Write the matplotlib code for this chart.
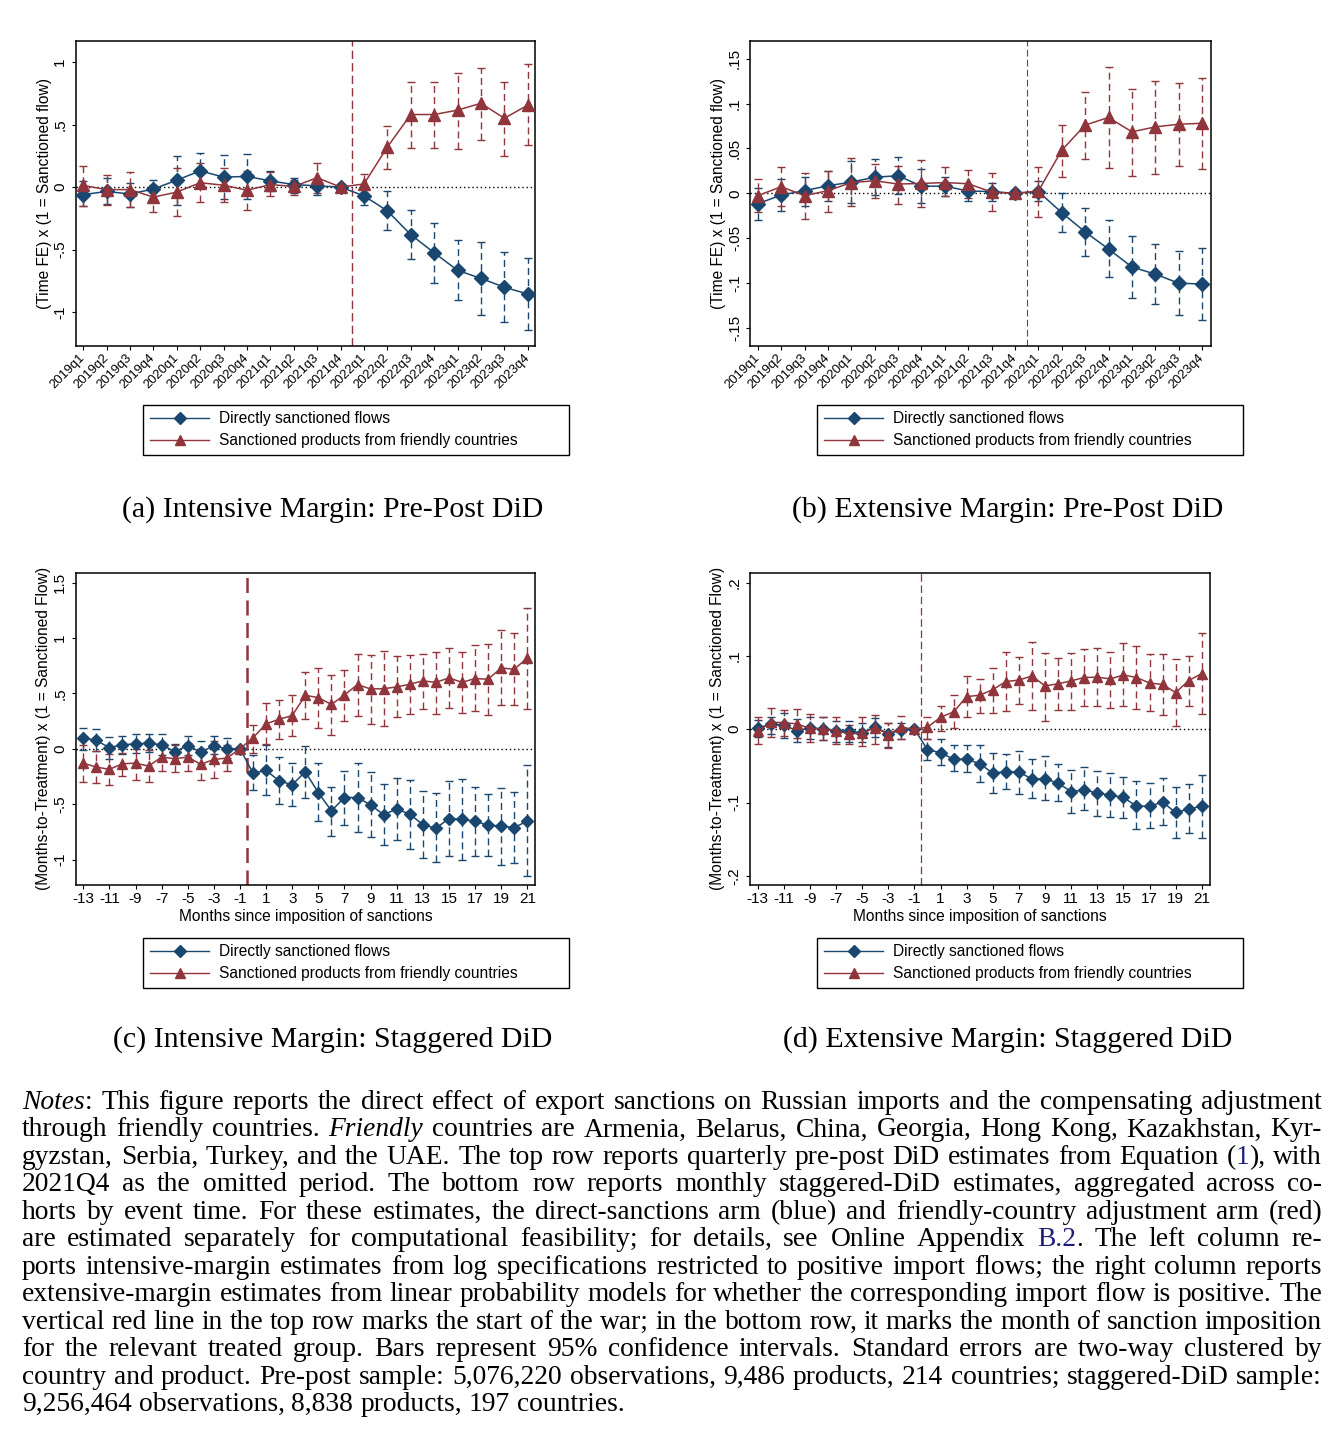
import numpy as np
import matplotlib
matplotlib.use('Agg')
import matplotlib.pyplot as plt
from matplotlib.lines import Line2D
from matplotlib.patches import Rectangle

plt.rcParams['font.family'] = ['Liberation Sans', 'DejaVu Sans']

BLUE = '#1a476f'
RED = '#90353b'
LINK = '#1c1c7a'
nan = np.nan

# ---- data ----
quarters = ['2019q1', '2019q2', '2019q3', '2019q4', '2020q1', '2020q2', '2020q3', '2020q4',
            '2021q1', '2021q2', '2021q3', '2021q4', '2022q1', '2022q2', '2022q3', '2022q4',
            '2023q1', '2023q2', '2023q3', '2023q4']
months = list(range(-13, 22))

# (a) intensive margin, pre-post
a_dir = [-0.06, -0.035, -0.055, -0.015, 0.055, 0.13, 0.08, 0.085, 0.05, 0.02, 0.01, 0.0,
         -0.07, -0.19, -0.38, -0.525, -0.665, -0.73, -0.80, -0.855]
a_dir_hi = [0.05, 0.07, 0.03, 0.06, 0.25, 0.27, 0.26, 0.265, 0.13, 0.075, 0.055, nan,
            -0.015, -0.03, -0.18, -0.29, -0.42, -0.44, -0.52, -0.565]
a_dir_lo = [-0.155, -0.135, -0.16, -0.095, -0.145, -0.005, -0.095, -0.095, -0.03, -0.045, -0.065, nan,
            -0.14, -0.34, -0.575, -0.765, -0.905, -1.02, -1.075, -1.14]
a_fr = [0.013, -0.02, -0.02, -0.08, -0.04, 0.035, 0.015, -0.025, 0.02, 0.005, 0.075, 0.0,
        0.025, 0.32, 0.58, 0.58, 0.615, 0.67, 0.55, 0.655]
a_fr_hi = [0.165, 0.10, 0.12, 0.02, 0.15, 0.19, 0.15, 0.13, 0.12, 0.06, 0.195, nan,
           0.105, 0.49, 0.84, 0.84, 0.91, 0.95, 0.84, 0.98]
a_fr_lo = [-0.155, -0.14, -0.16, -0.2, -0.23, -0.12, -0.12, -0.18, -0.07, -0.065, -0.05, nan,
           -0.05, 0.145, 0.31, 0.315, 0.305, 0.38, 0.25, 0.335]

# (b) extensive margin, pre-post
b_dir = [-0.0115, -0.002, 0.003, 0.0085, 0.0125, 0.018, 0.0196, 0.008, 0.008, 0.0026, 0.002, 0.0,
         0.002, -0.0215, -0.043, -0.062, -0.082, -0.090, -0.100, -0.101]
b_dir_hi = [0.0063, 0.016, 0.018, 0.0245, 0.036, 0.038, 0.040, 0.027, 0.0185, 0.009, 0.012, nan,
            0.0137, 0.0, -0.016, -0.030, -0.048, -0.056, -0.064, -0.061]
b_dir_lo = [-0.030, -0.0196, -0.0137, -0.008, -0.011, -0.002, -0.001, -0.011, -0.003, -0.008, -0.008, nan,
            -0.009, -0.043, -0.070, -0.093, -0.116, -0.123, -0.135, -0.141]
b_fr = [-0.0026, 0.0074, -0.0026, 0.003, 0.012, 0.014, 0.0104, 0.011, 0.012, 0.0107, 0.0015, 0.0,
        0.0026, 0.048, 0.076, 0.0845, 0.0685, 0.074, 0.077, 0.078]
b_fr_hi = [0.0163, 0.029, 0.023, 0.025, 0.0396, 0.033, 0.030, 0.037, 0.029, 0.026, 0.023, nan,
           0.0296, 0.076, 0.113, 0.141, 0.116, 0.125, 0.123, 0.1285]
b_fr_lo = [-0.021, -0.0137, -0.029, -0.0207, -0.014, -0.0056, -0.012, -0.015, -0.0033, -0.005, -0.020, nan,
           -0.0267, 0.018, 0.038, 0.028, 0.0196, 0.022, 0.031, 0.027]

# (c) intensive margin, staggered
c_dir = [0.099, 0.075, 0.01, 0.036, 0.045, 0.05, 0.036, -0.025, 0.027, -0.03, 0.027, 0.0, 0.0,
         -0.22, -0.195, -0.29, -0.325, -0.207, -0.396, -0.56, -0.44, -0.44, -0.507, -0.595,
         -0.544, -0.59, -0.685, -0.718, -0.63, -0.636, -0.655, -0.69, -0.697, -0.712, -0.652]
c_dir_hi = [0.19, 0.175, 0.105, 0.115, 0.13, 0.13, 0.13, 0.04, 0.115, 0.066, 0.117, 0.096, nan,
            -0.055, 0.036, -0.075, -0.126, 0.024, -0.13, -0.345, -0.2, -0.126, -0.21, -0.318,
            -0.264, -0.285, -0.38, -0.40, -0.29, -0.273, -0.345, -0.41, -0.355, -0.39, -0.147]
c_dir_lo = [-0.015, -0.02, -0.09, -0.045, -0.04, -0.03, -0.06, -0.13, -0.055, -0.135, -0.05, -0.085, nan,
            -0.375, -0.42, -0.495, -0.52, -0.44, -0.655, -0.787, -0.685, -0.75, -0.8, -0.865,
            -0.826, -0.904, -0.99, -1.024, -0.967, -1.0, -0.967, -0.967, -1.048, -1.03, -1.147]
c_fr = [-0.13, -0.165, -0.186, -0.135, -0.13, -0.156, -0.075, -0.09, -0.075, -0.14, -0.096, -0.084, 0.0,
        0.10, 0.225, 0.267, 0.30, 0.483, 0.462, 0.40, 0.486, 0.58, 0.54, 0.543,
        0.558, 0.583, 0.613, 0.60, 0.64, 0.60, 0.634, 0.628, 0.73, 0.718, 0.82]
c_fr_hi = [0.036, -0.02, -0.045, -0.036, 0.0, -0.015, 0.045, 0.036, 0.05, 0.0, 0.07, 0.036, nan,
           0.216, 0.41, 0.44, 0.483, 0.694, 0.73, 0.667, 0.71, 0.855, 0.844, 0.883,
           0.838, 0.847, 0.853, 0.874, 0.907, 0.874, 0.934, 0.943, 1.07, 1.042, 1.267]
c_fr_lo = [-0.30, -0.31, -0.33, -0.25, -0.285, -0.30, -0.2, -0.21, -0.2, -0.285, -0.26, -0.2, nan,
           -0.04, 0.04, 0.087, 0.114, 0.267, 0.186, 0.126, 0.252, 0.294, 0.225, 0.204,
           0.288, 0.315, 0.357, 0.315, 0.369, 0.324, 0.34, 0.306, 0.393, 0.393, 0.363]

# (d) extensive margin, staggered
d_dir = [0.0014, 0.007, 0.0055, -0.002, 0.0018, 0.0005, -0.002, -0.003, -0.0045, 0.003, -0.0064, -0.001, 0.0,
         -0.028, -0.032, -0.041, -0.041, -0.047, -0.06, -0.0577, -0.0586, -0.0677, -0.0677, -0.0736,
         -0.085, -0.0827, -0.087, -0.090, -0.093, -0.105, -0.105, -0.0995, -0.1136, -0.109, -0.105]
d_dir_hi = [0.012, 0.017, 0.022, 0.014, 0.016, 0.017, 0.011, 0.011, 0.0086, 0.0155, 0.009, 0.0086, nan,
            -0.013, -0.013, -0.022, -0.022, -0.022, -0.032, -0.0336, -0.0295, -0.0405, -0.037, -0.048,
            -0.056, -0.052, -0.057, -0.060, -0.0645, -0.071, -0.0736, -0.067, -0.079, -0.075, -0.062]
d_dir_lo = [-0.01, -0.007, -0.012, -0.017, -0.013, -0.0145, -0.017, -0.017, -0.018, -0.010, -0.0236, -0.0136, nan,
            -0.042, -0.0486, -0.057, -0.059, -0.072, -0.087, -0.082, -0.0877, -0.0936, -0.097, -0.098,
            -0.114, -0.11, -0.118, -0.12, -0.121, -0.136, -0.135, -0.131, -0.148, -0.142, -0.148]
d_fr = [-0.003, 0.0095, 0.009, 0.0073, 0.001, 0.0005, -0.002, -0.0064, -0.0055, 0.0023, -0.0073, 0.0027, 0.0,
        0.0027, 0.0164, 0.0236, 0.0445, 0.0464, 0.054, 0.065, 0.067, 0.0727, 0.059, 0.062,
        0.066, 0.0705, 0.071, 0.0686, 0.074, 0.0705, 0.063, 0.061, 0.05, 0.0664, 0.076]
d_fr_hi = [0.016, 0.0295, 0.026, 0.027, 0.021, 0.017, 0.017, 0.006, 0.016, 0.019, 0.008, 0.0177, nan,
           0.016, 0.032, 0.046, 0.073, 0.069, 0.084, 0.105, 0.099, 0.1186, 0.1045, 0.0977,
           0.104, 0.110, 0.111, 0.106, 0.117, 0.114, 0.102, 0.102, 0.0955, 0.0995, 0.131]
d_fr_lo = [-0.0205, -0.01, -0.0086, -0.012, -0.018, -0.0145, -0.02, -0.020, -0.023, -0.0195, -0.025, -0.013, nan,
           -0.013, -0.0023, 0.001, 0.0164, 0.022, 0.022, 0.0255, 0.0345, 0.026, 0.0118, 0.026,
           0.026, 0.031, 0.031, 0.029, 0.031, 0.027, 0.025, 0.0195, 0.0045, 0.032, 0.0205]

a_yticks = [-1, -0.5, 0, 0.5, 1]
a_ylabels = ['-1', '-.5', '0', '.5', '1']
b_yticks = [-0.15, -0.1, -0.05, 0, 0.05, 0.1, 0.15]
b_ylabels = ['-.15', '-.1', '-.05', '0', '.05', '.1', '.15']
c_yticks = [-1, -0.5, 0, 0.5, 1, 1.5]
c_ylabels = ['-1', '-.5', '0', '.5', '1', '1.5']
d_yticks = [-0.2, -0.1, 0, 0.1, 0.2]
d_ylabels = ['-.2', '-.1', '0', '.1', '.2']

legend_labels = ['Directly sanctioned flows', 'Sanctioned products from friendly countries']
captions = ['(a) Intensive Margin: Pre-Post DiD', '(b) Extensive Margin: Pre-Post DiD',
            '(c) Intensive Margin: Staggered DiD', '(d) Extensive Margin: Staggered DiD']

notes_lines = [
    "*Notes*: This figure reports the direct effect of export sanctions on Russian imports and the compensating adjustment",
    "through friendly countries. *Friendly* countries are Armenia, Belarus, China, Georgia, Hong Kong, Kazakhstan, Kyr-",
    "gyzstan, Serbia, Turkey, and the UAE. The top row reports quarterly pre-post DiD estimates from Equation ({1}), with",
    "2021Q4 as the omitted period. The bottom row reports monthly staggered-DiD estimates, aggregated across co-",
    "horts by event time. For these estimates, the direct-sanctions arm (blue) and friendly-country adjustment arm (red)",
    "are estimated separately for computational feasibility; for details, see Online Appendix {B.2}. The left column re-",
    "ports intensive-margin estimates from log specifications restricted to positive import flows; the right column reports",
    "extensive-margin estimates from linear probability models for whether the corresponding import flow is positive. The",
    "vertical red line in the top row marks the start of the war; in the bottom row, it marks the month of sanction imposition",
    "for the relevant treated group. Bars represent 95% confidence intervals. Standard errors are two-way clustered by",
    "country and product. Pre-post sample: 5,076,220 observations, 9,486 products, 214 countries; staggered-DiD sample:",
    "9,256,464 observations, 8,838 products, 197 countries.",
]

# ---- figure ----
W, H = 1341, 1441
fig = plt.figure(figsize=(W / 100, H / 100), dpi=100)


def fx(px):
    return px / W


def fy(py):
    return 1 - py / H


def make_ax(left, top, right, bottom):
    return fig.add_axes([fx(left), fy(bottom), (right - left) / W, (bottom - top) / H])


def draw_panel(ax, x, d, d_lo, d_hi, f, f_lo, f_hi, vline, vlw, ms_d, ms_f):
    ax.axhline(0, color='black', ls=(0, (1, 2)), lw=1.0, zorder=1)
    ax.axvline(vline, color=RED, ls=(0, (6, 3)), lw=vlw, zorder=1)
    for y, lo, hi, c in [(d, d_lo, d_hi, BLUE), (f, f_lo, f_hi, RED)]:
        y = np.array(y, dtype=float)
        lo = np.array(lo, dtype=float)
        hi = np.array(hi, dtype=float)
        eb = ax.errorbar(x, y, yerr=[y - lo, hi - y], fmt='none', ecolor=c,
                         elinewidth=1.0, capsize=2.8, capthick=1.0, zorder=2)
        eb[2][0].set_linestyle((0, (5, 3)))
    ax.plot(x, d, color=BLUE, lw=1.1, marker='D', ms=ms_d, mec=BLUE, zorder=3)
    ax.plot(x, f, color=RED, lw=1.1, marker='^', ms=ms_f, mec=RED, zorder=4)
    for s in ax.spines.values():
        s.set_linewidth(1.1)
    ax.tick_params(direction='out', length=3, width=0.8, labelsize=11, colors='black')


def style_y(ax, ticks, labels, ylabel, lab_x):
    ax.set_yticks(ticks)
    ax.set_yticklabels(labels, rotation=90, va='center')
    ax.tick_params(axis='y', pad=3)
    ax.set_ylabel(ylabel, fontsize=11.2)
    ax.yaxis.set_label_coords(lab_x, 0.5)


ax_a = make_ax(75.7, 40.7, 535, 346)
ax_b = make_ax(750.3, 40.7, 1210.7, 346)
ax_c = make_ax(75.7, 572.7, 535, 885)
ax_d = make_ax(750, 572.7, 1210, 885)

qx = np.arange(len(quarters))
draw_panel(ax_a, qx, a_dir, a_dir_lo, a_dir_hi, a_fr, a_fr_lo, a_fr_hi, 11.5, 1.0, 7, 8)
draw_panel(ax_b, qx, b_dir, b_dir_lo, b_dir_hi, b_fr, b_fr_lo, b_fr_hi, 11.5, 0.8, 7, 8)
draw_panel(ax_c, months, c_dir, c_dir_lo, c_dir_hi, c_fr, c_fr_lo, c_fr_hi, -0.5, 1.8, 6.5, 7.5)
draw_panel(ax_d, months, d_dir, d_dir_lo, d_dir_hi, d_fr, d_fr_lo, d_fr_hi, -0.5, 0.9, 6.5, 7.5)

ax_a.set_xlim(-0.32, 19.31)
ax_a.set_ylim(-1.27, 1.17)
ax_b.set_xlim(-0.32, 19.37)
ax_b.set_ylim(-0.17, 0.17)
ax_c.set_xlim(-13.58, 21.59)
ax_c.set_ylim(-1.23, 1.59)
ax_d.set_xlim(-13.59, 21.63)
ax_d.set_ylim(-0.2125, 0.2135)

for ax in (ax_a, ax_b):
    ax.set_xticks(qx)
    ax.set_xticklabels(quarters, rotation=45, ha='right', va='center',
                       rotation_mode='anchor', fontsize=9.4)
    ax.tick_params(axis='x', pad=4)
for ax in (ax_c, ax_d):
    ax.set_xticks(months[::2])
    ax.set_xticklabels([str(m) for m in months[::2]])
    ax.tick_params(axis='x', pad=2)
    ax.set_xlabel('Months since imposition of sanctions', fontsize=11.2, labelpad=2)

style_y(ax_a, a_yticks, a_ylabels, '(Time FE) x (1 = Sanctioned flow)', -0.052)
style_y(ax_b, b_yticks, b_ylabels, '(Time FE) x (1 = Sanctioned flow)', -0.052)
style_y(ax_c, c_yticks, c_ylabels, '(Months-to-Treatment) x (1 = Sanctioned Flow)', -0.054)
style_y(ax_d, d_yticks, d_ylabels, '(Months-to-Treatment) x (1 = Sanctioned Flow)', -0.054)

# legends with Stata-like boxes
handles = [Line2D([], [], color=BLUE, lw=1.0, marker='D', ms=6.5),
           Line2D([], [], color=RED, lw=1.0, marker='^', ms=7.5)]
for bx, by in [(143, 405), (817, 405), (143, 938), (817, 938)]:
    fig.add_artist(Rectangle((fx(bx), fy(by + 50)), 426 / W, 50 / H, transform=fig.transFigure,
                             fill=False, ec='black', lw=1.0))
    fig.legend(handles, legend_labels, loc='upper left',
               bbox_to_anchor=(fx(bx + 7), fy(by + 6)), bbox_transform=fig.transFigure,
               frameon=False, fontsize=11.2, handlelength=3.8, handletextpad=0.65,
               labelspacing=0.45, borderpad=0, borderaxespad=0)

# captions
for (cx, cy), txt in zip([(333, 510), (1008, 510), (333, 1040), (1008, 1040)], captions):
    fig.text(fx(cx), fy(cy), txt, ha='center', va='center',
             family='Liberation Serif', fontsize=21.5)

# justified notes block
renderer = fig.canvas.get_renderer()
NOTE_SIZE = 19.8
x_left, x_right = 22, 1322
base0, step = 1109, 27.45


def split_pieces(word):
    out, buf, ital, link = [], '', False, False
    for ch in word:
        if ch in '*{}':
            if buf:
                out.append((buf, ital, link))
            buf = ''
            if ch == '*':
                ital = not ital
            else:
                link = ch == '{'
        else:
            buf += ch
    if buf:
        out.append((buf, ital, link))
    return out


def measure(s, ital=False):
    t = fig.text(0, 0, s, family='Liberation Serif', fontsize=NOTE_SIZE,
                 style='italic' if ital else 'normal')
    w = t.get_window_extent(renderer).width
    t.remove()
    return w


space_w = measure('x x') - measure('xx')

for i, line in enumerate(notes_lines):
    words = [split_pieces(w) for w in line.split()]
    widths = [[measure(s, it) for s, it, lk in wp] for wp in words]
    totals = [sum(ws) for ws in widths]
    if i < len(notes_lines) - 1:
        gap = (x_right - x_left - sum(totals)) / (len(words) - 1)
    else:
        gap = space_w
    x = x_left
    y = fy(base0 + i * step)
    for wp, ws in zip(words, widths):
        for (s, it, lk), w in zip(wp, ws):
            fig.text(fx(x), y, s, family='Liberation Serif', fontsize=NOTE_SIZE,
                     style='italic' if it else 'normal', color=LINK if lk else 'black',
                     ha='left', va='baseline')
            x += w
        x += gap

fig.savefig('out.png', dpi=100)
